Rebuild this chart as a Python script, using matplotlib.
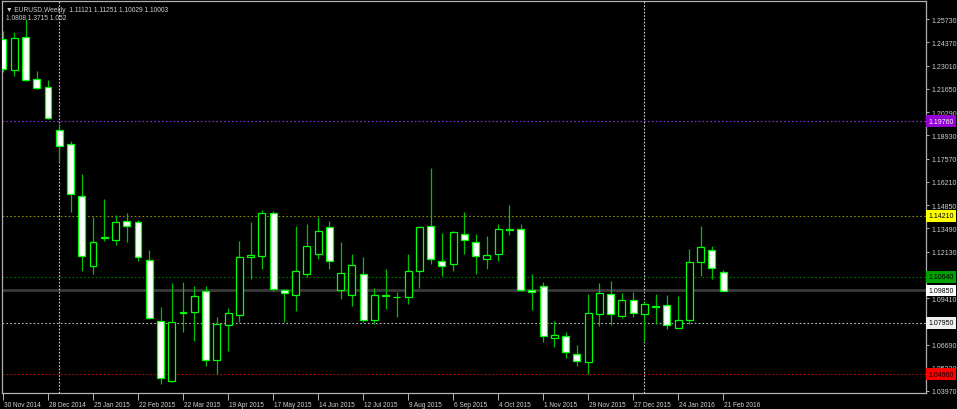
import matplotlib
matplotlib.use("Agg")
import matplotlib.pyplot as plt
import matplotlib.transforms as mtransforms
from matplotlib.patches import Rectangle

# weekly EURUSD candles, 30 Nov 2014 .. 21 Feb 2016
opens = [1.2456, 1.2275, 1.2468, 1.2222, 1.2175, 1.1924, 1.1842, 1.1538, 1.1128, 1.1292,
         1.1280, 1.1391, 1.1386, 1.1163, 1.0806, 1.0456, 1.0859, 1.0859, 1.0982, 1.0578,
         1.0783, 1.0842, 1.1181, 1.1187, 1.1438, 1.0988, 1.0959, 1.1081, 1.1198, 1.1356,
         1.0988, 1.0959, 1.1081, 1.0812, 1.0959, 1.0947, 1.0947, 1.1099, 1.1362, 1.1157,
         1.1140, 1.1315, 1.1269, 1.1169, 1.1198, 1.1342, 1.1345, 1.0985, 1.1011, 1.0707,
         1.0719, 1.0613, 1.0567, 1.0847, 1.0964, 1.0836, 1.0929, 1.0847, 1.0892, 1.0900,
         1.0766, 1.0812, 1.1152, 1.1222, 1.1093]
highs = [1.2503, 1.2497, 1.2573, 1.2269, 1.2216, 1.1959, 1.1859, 1.1666, 1.1415, 1.1520,
         1.1427, 1.1438, 1.1397, 1.1222, 1.0888, 1.1029, 1.1035, 1.1011, 1.1011, 1.0830,
         1.0883, 1.1274, 1.1386, 1.1456, 1.1450, 1.0994, 1.1362, 1.1374, 1.1415, 1.1391,
         1.1269, 1.1198, 1.1181, 1.0999, 1.1111, 1.0976, 1.1198, 1.1362, 1.1701, 1.1321,
         1.1333, 1.1444, 1.1315, 1.1304, 1.1374, 1.1485, 1.1374, 1.1081, 1.1035, 1.0806,
         1.0742, 1.0666, 1.0964, 1.1029, 1.1040, 1.0970, 1.0976, 1.0923, 1.0964, 1.0959,
         1.0953, 1.1228, 1.1362, 1.1245, 1.1105]
lows = [1.2263, 1.2240, 1.2210, 1.2164, 1.1988, 1.1737, 1.1444, 1.1099, 1.1081, 1.1274,
        1.1251, 1.1269, 1.1157, 1.0818, 1.0438, 1.0450, 1.0742, 1.0690, 1.0543, 1.0496,
        1.0631, 1.0801, 1.1052, 1.1111, 1.0982, 1.0801, 1.0865, 1.1064, 1.1169, 1.1111,
        1.0935, 1.0894, 1.0801, 1.0789, 1.0877, 1.0830, 1.0906, 1.0999, 1.1140, 1.1070,
        1.1099, 1.1198, 1.1081, 1.1111, 1.1157, 1.1310, 1.0982, 1.0871, 1.0684, 1.0654,
        1.0590, 1.0543, 1.0496, 1.0777, 1.0783, 1.0824, 1.0830, 1.0690, 1.0789, 1.0760,
        1.0766, 1.0789, 1.1070, 1.1052, 1.0982]
closes = [1.2281, 1.2462, 1.2216, 1.2169, 1.1994, 1.1830, 1.1549, 1.1187, 1.1269, 1.1298,
          1.1386, 1.1362, 1.1181, 1.0824, 1.0473, 1.0801, 1.0853, 1.0953, 1.0578, 1.0789,
          1.0853, 1.1181, 1.1193, 1.1438, 1.0994, 1.0970, 1.1099, 1.1245, 1.1333, 1.1157,
          1.1087, 1.1134, 1.0812, 1.0959, 1.0953, 1.0944, 1.1099, 1.1356, 1.1169, 1.1128,
          1.1327, 1.1280, 1.1187, 1.1193, 1.1345, 1.1336, 1.0988, 1.0979, 1.0719, 1.0725,
          1.0625, 1.0572, 1.0853, 1.0970, 1.0847, 1.0929, 1.0853, 1.0906, 1.0889, 1.0783,
          1.0812, 1.1152, 1.1239, 1.1117, 1.0982]

date_labels = ["30 Nov 2014", "28 Dec 2014", "25 Jan 2015", "22 Feb 2015", "22 Mar 2015",
               "19 Apr 2015", "17 May 2015", "14 Jun 2015", "12 Jul 2015", "9 Aug 2015",
               "6 Sep 2015", "4 Oct 2015", "1 Nov 2015", "29 Nov 2015", "27 Dec 2015",
               "24 Jan 2016", "21 Feb 2016"]
price_ticks = [1.25730, 1.24370, 1.23010, 1.21650, 1.20290, 1.18930, 1.17570, 1.16210,
               1.14850, 1.13490, 1.12130, 1.10770, 1.09410, 1.08050, 1.06690, 1.05330,
               1.03970]
year_starts = [5, 57]

# horizontal levels: price, line colour, label colour
levels = [(1.1976, "#8a2be2", "#9400d3"), (1.1421, "#8c8c00", "#ffff00"),
          (1.1064, "#007000", "#00a000"), (1.0795, "#c0c0c0", "#f0f0f0"),
          (1.0496, "#c00000", "#ff0000")]
bid = 1.0985

header = "\u25bc EURUSD,Weekly  1.11121 1.11251 1.10029 1.10003"
header2 = "1.0808 1.3715 1.052"

plt.rcParams["font.family"] = ["Liberation Sans", "DejaVu Sans"]
fig = plt.figure(figsize=(9.57, 4.10), dpi=100, facecolor="black")
ax = fig.add_axes([2 / 957, 16 / 410, 924 / 957, 392 / 410], facecolor="black")

fg = "#d0d0d0"
edge = "#00ff00"
wick = "#00c000"
w = 0.62

for lv, lc, _ in levels:
    ax.axhline(lv, color=lc, lw=0.8, ls=(0, (1.5, 2)), zorder=1)
ax.axhline(bid, color="#3a3a3a", lw=2, zorder=1)
for xs in year_starts:
    ax.axvline(xs, color="#d0d0d0", lw=0.8, ls=(0, (1.5, 1.5)), zorder=1)

for i in range(len(opens)):
    o, h, l, c = opens[i], highs[i], lows[i], closes[i]
    ax.vlines(i, l, h, color=wick, lw=0.9, zorder=2)
    face = "white" if c < o else "black"
    lo, hi = min(o, c), max(o, c)
    ax.add_patch(Rectangle((i - w / 2, lo), w, max(hi - lo, 0.00005), facecolor=face,
                           edgecolor=edge, lw=0.9, zorder=3))

ax.set_xlim(-0.089, 82.04)
ax.set_ylim(1.03853, 1.26783)

for s in ax.spines.values():
    s.set_color("#b0b0b0")
    s.set_linewidth(0.9)

ax.yaxis.tick_right()
ax.set_yticks(price_ticks)
ax.set_yticklabels([f"{v:.5f}" for v in price_ticks])
ax.tick_params(axis="y", colors=fg, labelsize=5, length=2.5, width=0.6, pad=1.5)

ax.set_xticks(range(0, len(opens), 4))
ax.set_xticklabels(date_labels, ha="left")
ax.tick_params(axis="x", colors=fg, labelsize=4.7, length=5, width=0.6, pad=1)
for lab in ax.get_xticklabels():
    lab.set_transform(lab.get_transform() + mtransforms.ScaledTranslation(1 / 100, 0, fig.dpi_scale_trans))

trans = mtransforms.blended_transform_factory(ax.transAxes, ax.transData)
for lv, _, col in levels:
    tc = "white" if col == "#9400d3" else "black"
    ax.text(1.0025, lv, f"{lv:.5f}", transform=trans, fontsize=5, color=tc, va="center",
            ha="left", bbox=dict(boxstyle="square,pad=0.3", fc=col, ec="none"), zorder=5,
            clip_on=False)
ax.text(1.0025, bid, f"{bid:.5f}", transform=trans, fontsize=5, color="black", va="center",
        ha="left", bbox=dict(boxstyle="square,pad=0.3", fc="white", ec="none"), zorder=5,
        clip_on=False)

ax.text(0.004, 0.988, header, transform=ax.transAxes, fontsize=4.8, color=fg, va="top")
ax.text(0.004, 0.966, header2, transform=ax.transAxes, fontsize=4.8, color=fg, va="top")

fig.savefig("out.png", dpi=100, facecolor="black")
